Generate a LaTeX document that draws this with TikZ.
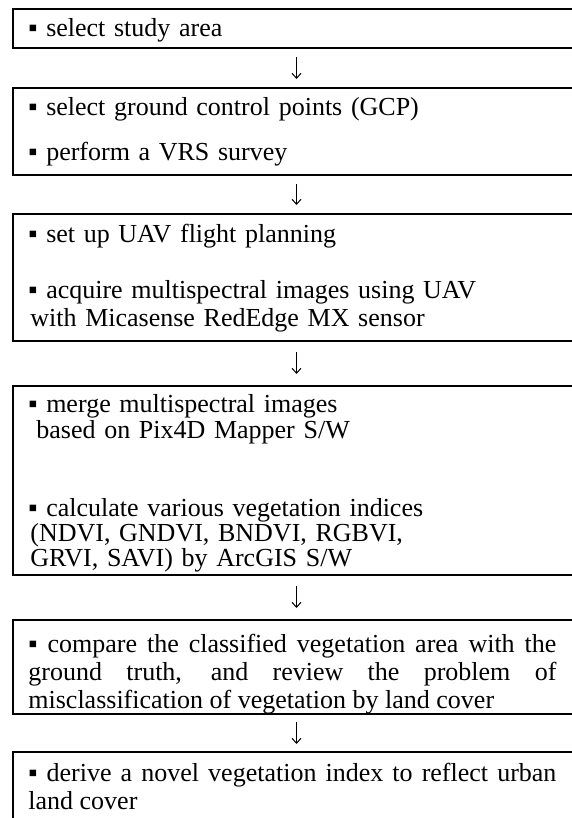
\documentclass[tikz,border=0pt]{standalone}
\usepackage{fontspec}
\setmainfont{Liberation Serif}
\usetikzlibrary{arrows.meta,positioning}

\tikzset{
  stage/.style={draw, line width=0.7pt, minimum width=283.5pt, inner sep=0pt,
    outer sep=0pt},
  item/.style={inner sep=0pt, text width=264pt, align=left,
    font=\fontsize{13}{14}\selectfont},
  flow/.style={-{Straight Barb[length=2.5pt,width=4.5pt]}, line width=0.5pt,
    shorten <=4.5pt, shorten >=4.5pt}
}

\begin{document}
\begin{tikzpicture}
  \useasboundingbox (0,0) rectangle (286pt,-409pt);
  % frames, top to bottom
  \node[stage, minimum height=19.5pt, anchor=north west] (s1) at (6.5pt,-4.5pt) {};
  \node[stage, minimum height=43.5pt, below=20pt of s1]   (s2) {};
  \node[stage, minimum height=63.5pt, below=19.5pt of s2] (s3) {};
  \node[stage, minimum height=94.5pt, below=22.5pt of s3] (s4) {};
  \node[stage, minimum height=47pt,   below=22.5pt of s4] (s5) {};
  \node[stage, minimum height=40pt,   below=19pt of s5]   (s6) {};
  % what goes in each frame
  \node[item, below right=3.7pt and 7.5pt of s1.north west] (t1)
    {\strut▪ select study area};
  \node[item, below right=3.9pt and 7.5pt of s2.north west] (t2)
    {\strut▪ select ground control points (GCP)\\[8.5pt]
     ▪ perform a VRS survey};
  \node[item, below right=4.4pt and 7.5pt of s3.north west] (t3)
    {\strut▪ set up UAV flight planning\\[14pt]
     ▪ acquire multispectral images using UAV\\
     \hspace*{1pt}with Micasense RedEdge MX sensor};
  \node[item, below right=3.3pt and 7.5pt of s4.north west] (t4)
    {\strut▪ merge multispectral images\\[-1pt]
     \hspace*{4pt}based on Pix4D Mapper S/W\\[25pt]
     ▪ calculate various vegetation indices\\[-1.5pt]
     \hspace*{1pt}(NDVI, GNDVI, BNDVI, RGBVI,\\[-1.5pt]
     \hspace*{1pt}GRVI, SAVI) by ArcGIS S/W};
  \node[item, align=justify, below right=6pt and 7.5pt of s5.north west] (t5)
    {\strut▪ compare the classified vegetation area with the\linebreak
     ground truth, and review the problem of\linebreak
     misclassification of vegetation by land cover};
  \node[item, align=justify, below right=4.5pt and 7.5pt of s6.north west] (t6)
    {\strut▪ derive a novel vegetation index to reflect urban\linebreak
     land cover};
  % arrows between the frames
  \path (s1) edge[flow] (s2)
        (s2) edge[flow] (s3)
        (s3) edge[flow, shorten <=5.5pt, shorten >=6pt] (s4)
        (s4) edge[flow, shorten <=5.5pt, shorten >=6pt] (s5)
        (s5) edge[flow, shorten <=4pt, shorten >=4pt] (s6);
\end{tikzpicture}
\end{document}
